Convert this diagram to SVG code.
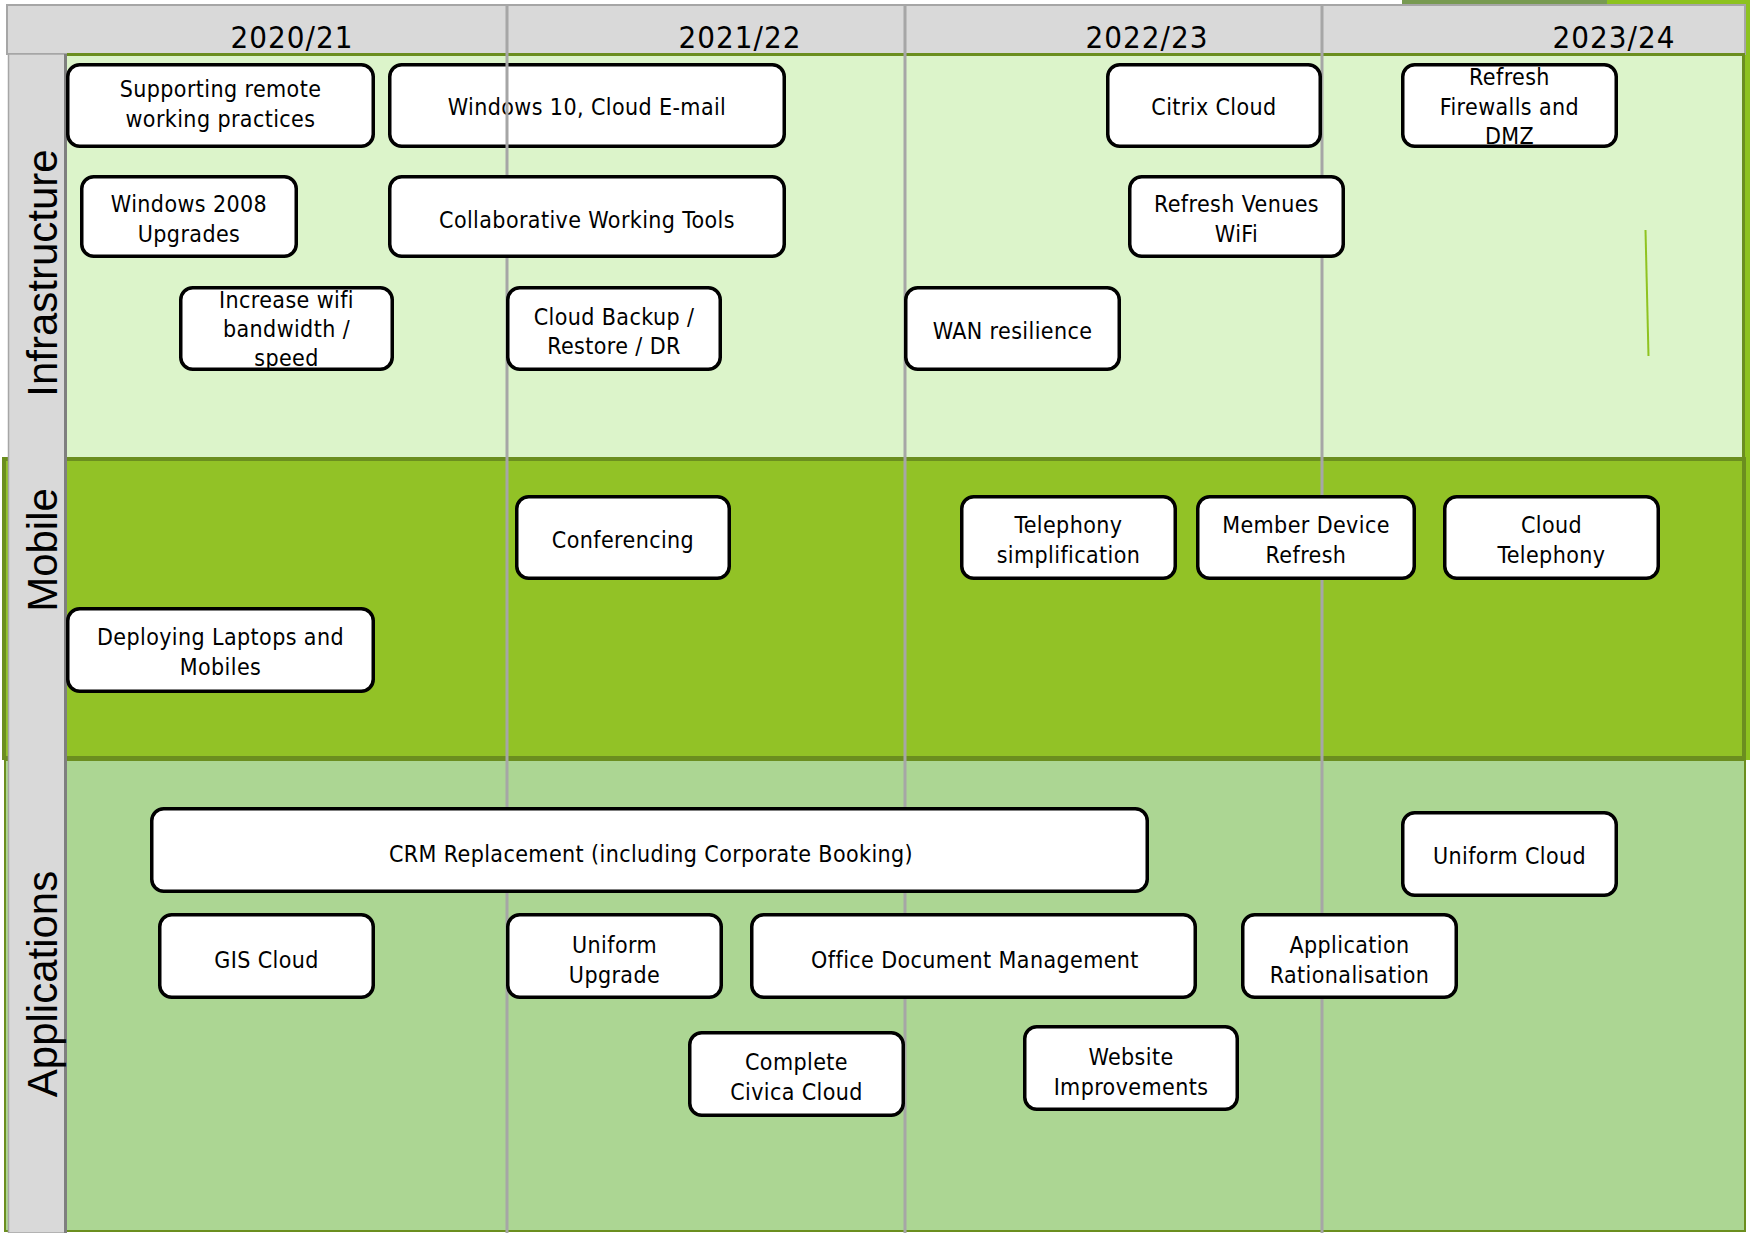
<svg xmlns="http://www.w3.org/2000/svg" width="1750" height="1233" viewBox="0 0 1750 1233">
<style>
.box{fill:#ffffff;stroke:#000000;stroke-width:3.5}
.t{font-family:"DejaVu Sans Condensed","DejaVu Sans",sans-serif;font-size:23px;letter-spacing:0.4px;fill:#000;text-anchor:middle}
.yr{font-family:"DejaVu Sans Condensed","DejaVu Sans",sans-serif;font-size:31px;letter-spacing:1px;fill:#000;text-anchor:middle}
.lane{font-family:"Liberation Sans",Arial,sans-serif;font-size:42px;fill:#000;text-anchor:middle}
.div{stroke:#a6a6a6;stroke-width:3}
</style>
<rect x="0" y="0" width="1750" height="1233" fill="#ffffff"/>
<g id="background">
<rect x="1402" y="0" width="205" height="4" fill="#789a52"/>
<rect x="1607" y="0" width="143" height="4" fill="#8dc21f"/>
<rect x="1745" y="0" width="5" height="760" fill="#8dc21f"/>
<rect x="7" y="5" width="1738" height="49" fill="#d9d9d9" stroke="#a6a6a6" stroke-width="2"/>
<rect x="67" y="54" width="1677" height="404" fill="#dcf4ca"/>
<line x1="67" y1="54.5" x2="1745" y2="54.5" stroke="#6b8e1f" stroke-width="3"/>
<line x1="1743.5" y1="54" x2="1743.5" y2="458" stroke="#6b8e1f" stroke-width="3"/>
<rect x="4" y="459" width="1740" height="299" fill="#92c226" stroke="#6b8e1f" stroke-width="4"/>
<rect x="5" y="760" width="1740" height="471" fill="#acd693" stroke="#6b8e1f" stroke-width="2"/>
<rect x="8.5" y="54" width="57" height="1179" fill="#d9d9d9" stroke="#a6a6a6" stroke-width="1.5"/>
<line x1="65.5" y1="54" x2="65.5" y2="1233" stroke="#7f7f7f" stroke-width="3"/>
<line x1="1645.5" y1="230" x2="1648.5" y2="356" stroke="#8fc31f" stroke-width="2"/>
</g>
<g id="labels">
<text class="yr" x="292" y="48">2020/21</text>
<text class="yr" x="740" y="48">2021/22</text>
<text class="yr" x="1147" y="48">2022/23</text>
<text class="yr" x="1614" y="48">2023/24</text>
<text class="lane" transform="translate(57,273) rotate(-90)">Infrastructure</text>
<text class="lane" transform="translate(57,550) rotate(-90)">Mobile</text>
<text class="lane" transform="translate(57,984) rotate(-90)">Applications</text>
</g>
<g id="n-win10">
<rect class="box" x="389.75" y="64.75" width="394.5" height="81.5" rx="12"/>
<text class="t" x="587" y="115">Windows 10, Cloud E-mail</text>
</g>
<g id="dividers">
<line class="div" x1="507" y1="5" x2="507" y2="1233"/>
<line class="div" x1="905" y1="5" x2="905" y2="1233"/>
<line class="div" x1="1322" y1="5" x2="1322" y2="1233"/>
</g>
<g id="connectors"></g>
<g id="n-supporting">
<rect class="box" x="67.75" y="64.75" width="305.5" height="81.5" rx="12"/>
<text class="t" x="220.5" y="97">Supporting remote</text>
<text class="t" x="220.5" y="126.5">working practices</text>
</g>
<g id="n-win2008">
<rect class="box" x="81.75" y="176.75" width="214.5" height="79.5" rx="12"/>
<text class="t" x="189" y="212">Windows 2008</text>
<text class="t" x="189" y="241.5">Upgrades</text>
</g>
<g id="n-collab">
<rect class="box" x="389.75" y="176.75" width="394.5" height="79.5" rx="12"/>
<text class="t" x="587" y="228">Collaborative  Working Tools</text>
</g>
<g id="n-wifi">
<rect class="box" x="180.75" y="287.75" width="211.5" height="81.5" rx="12"/>
<text class="t" x="286.5" y="308">Increase wifi</text>
<text class="t" x="286.5" y="337">bandwidth /</text>
<text class="t" x="286.5" y="366">speed</text>
</g>
<g id="n-backup">
<rect class="box" x="507.75" y="287.75" width="212.5" height="81.5" rx="12"/>
<text class="t" x="614" y="324.5">Cloud Backup /</text>
<text class="t" x="614" y="354">Restore / DR</text>
</g>
<g id="n-wan">
<rect class="box" x="905.75" y="287.75" width="213.5" height="81.5" rx="12"/>
<text class="t" x="1012.5" y="339">WAN resilience</text>
</g>
<g id="n-citrix">
<rect class="box" x="1107.75" y="64.75" width="212.5" height="81.5" rx="12"/>
<text class="t" x="1214" y="115">Citrix Cloud</text>
</g>
<g id="n-venues">
<rect class="box" x="1129.75" y="176.75" width="213.5" height="79.5" rx="12"/>
<text class="t" x="1236.5" y="212">Refresh Venues</text>
<text class="t" x="1236.5" y="241.5">WiFi</text>
</g>
<g id="n-firewalls">
<rect class="box" x="1402.75" y="64.75" width="213.5" height="81.5" rx="12"/>
<text class="t" x="1509.5" y="85">Refresh</text>
<text class="t" x="1509.5" y="114.5">Firewalls and</text>
<text class="t" x="1509.5" y="143.5">DMZ</text>
</g>
<g id="n-conferencing">
<rect class="box" x="516.75" y="496.75" width="212.5" height="81.5" rx="12"/>
<text class="t" x="623" y="548">Conferencing</text>
</g>
<g id="n-laptops">
<rect class="box" x="67.75" y="608.75" width="305.5" height="82.5" rx="12"/>
<text class="t" x="220.5" y="645">Deploying Laptops and</text>
<text class="t" x="220.5" y="674.5">Mobiles</text>
</g>
<g id="n-telephony">
<rect class="box" x="961.75" y="496.75" width="213.5" height="81.5" rx="12"/>
<text class="t" x="1068.5" y="533">Telephony</text>
<text class="t" x="1068.5" y="563">simplification</text>
</g>
<g id="n-member">
<rect class="box" x="1197.75" y="496.75" width="216.5" height="81.5" rx="12"/>
<text class="t" x="1306" y="533">Member Device</text>
<text class="t" x="1306" y="563">Refresh</text>
</g>
<g id="n-cloudtel">
<rect class="box" x="1444.75" y="496.75" width="213.5" height="81.5" rx="12"/>
<text class="t" x="1551.5" y="533">Cloud</text>
<text class="t" x="1551.5" y="563">Telephony</text>
</g>
<g id="n-crm">
<rect class="box" x="151.75" y="808.75" width="995.5" height="82.5" rx="12"/>
<text class="t" x="651" y="862">CRM Replacement (including Corporate Booking)</text>
</g>
<g id="n-gis">
<rect class="box" x="159.75" y="914.75" width="213.5" height="82.5" rx="12"/>
<text class="t" x="266.5" y="968">GIS Cloud</text>
</g>
<g id="n-uniformupg">
<rect class="box" x="507.75" y="914.75" width="213.5" height="82.5" rx="12"/>
<text class="t" x="614.5" y="953">Uniform</text>
<text class="t" x="614.5" y="982.5">Upgrade</text>
</g>
<g id="n-odm">
<rect class="box" x="751.75" y="914.75" width="443.5" height="82.5" rx="12"/>
<text class="t" x="975" y="968">Office Document Management</text>
</g>
<g id="n-civica">
<rect class="box" x="689.75" y="1032.75" width="213.5" height="82.5" rx="12"/>
<text class="t" x="796.5" y="1070">Complete</text>
<text class="t" x="796.5" y="1099.5">Civica  Cloud</text>
</g>
<g id="n-website">
<rect class="box" x="1024.75" y="1026.75" width="212.5" height="82.5" rx="12"/>
<text class="t" x="1131" y="1065">Website</text>
<text class="t" x="1131" y="1094.5">Improvements</text>
</g>
<g id="n-apprat">
<rect class="box" x="1242.75" y="914.75" width="213.5" height="82.5" rx="12"/>
<text class="t" x="1349.5" y="953">Application</text>
<text class="t" x="1349.5" y="983">Rationalisation</text>
</g>
<g id="n-uniformcloud">
<rect class="box" x="1402.75" y="812.75" width="213.5" height="82.5" rx="12"/>
<text class="t" x="1509.5" y="864">Uniform Cloud</text>
</g>
</svg>
